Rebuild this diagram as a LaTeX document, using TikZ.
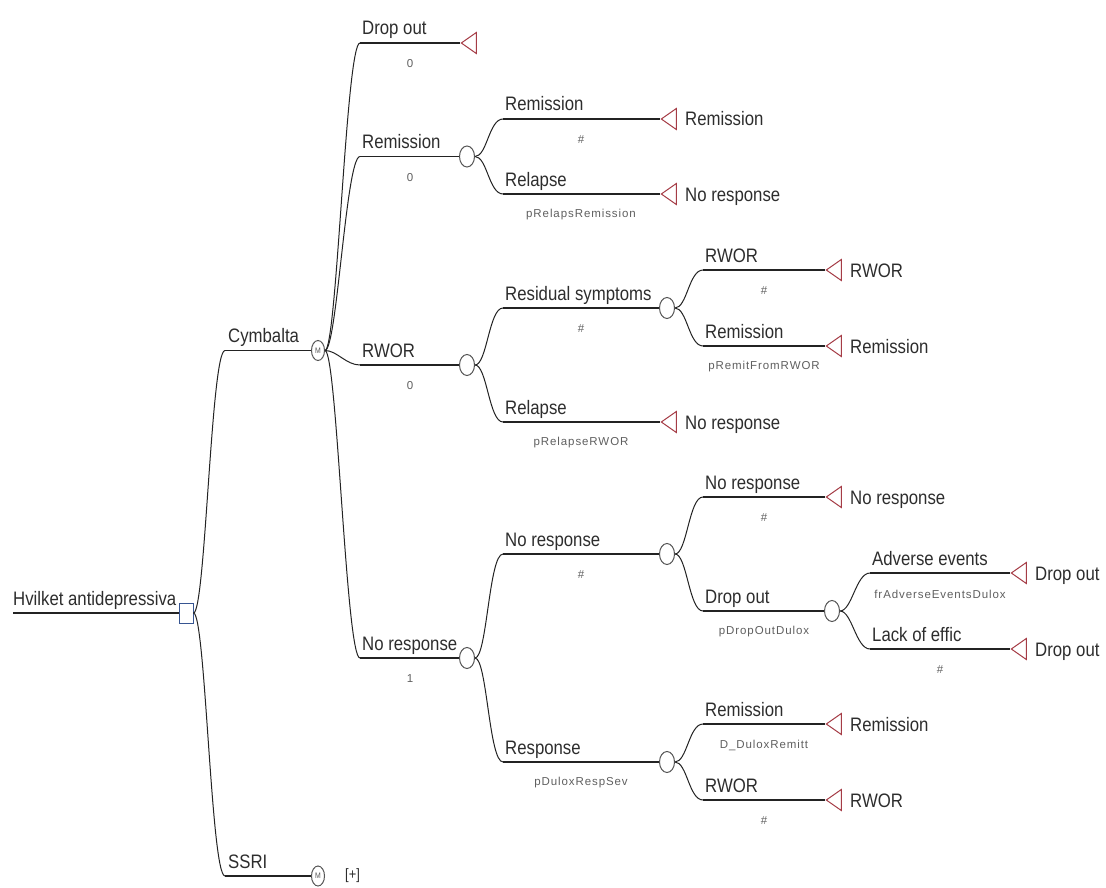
\documentclass[tikz,border=0pt]{standalone}
\usepackage{fontspec}
\usepackage{tikz}
\usetikzlibrary{shapes.geometric}
\newfontfamily\treefont[FakeStretch=0.86]{Liberation Sans}
\newfontfamily\probfont[LetterSpace=8]{Liberation Sans}
\definecolor{termred}{RGB}{165,60,70}
\definecolor{linegray}{RGB}{35,35,35}
\definecolor{nodegray}{RGB}{85,85,85}
\definecolor{decblue}{RGB}{55,85,145}
\definecolor{labelgray}{RGB}{45,45,45}
\definecolor{probgray}{RGB}{95,95,95}

\begin{document}
\begin{tikzpicture}[x=1pt, y=-1pt,
  branch/.style={linegray, line width=1.8pt},
  conn/.style={linegray, line width=1pt},
  chance/.style={ellipse, draw=nodegray, fill=white, line width=1pt, minimum width=15pt, minimum height=21pt, inner sep=0pt},
  markov/.style={ellipse, draw=nodegray, fill=white, line width=1pt, minimum width=13pt, minimum height=20pt, inner sep=0pt, text=nodegray, font=\treefont\fontsize{8}{8}\selectfont},
  decision/.style={rectangle, draw=decblue, fill=white, line width=1pt, minimum width=14pt, minimum height=20pt, inner sep=0pt},
  term/.style={isosceles triangle, shape border rotate=180, isosceles triangle stretches, draw=termred, fill=white, line width=1pt, minimum width=21pt, minimum height=15pt, inner sep=0pt, anchor=apex},
  lbl/.style={anchor=base west, inner sep=0pt, text=labelgray, font=\treefont\fontsize{19.5}{21}\selectfont},
  prob/.style={inner sep=0pt, text=probgray, font=\probfont\fontsize{11.5}{13}\selectfont}]
  \useasboundingbox (0,0) rectangle (1106,888);
  \def\xa{225}\def\xb{360}\def\xc{503}\def\xd{703}\def\xe{870}

  % decision: which antidepressant
  \node[decision] (dec) at (186,613) {};
  \coordinate (rootA) at (13,613);
  \draw[branch] (rootA) -- (dec.west);
  \node[lbl] (rootL) at (13,605) {Hvilket antidepressiva};

  % Cymbalta / SSRI (markov)
  \node[markov] (cym) at (318,350.5) {M};
  \coordinate (cymA) at (\xa,350.5);
  \draw[branch] (cymA) -- (cym.west);
  \draw[conn] (dec.east) .. controls +(12,0) and +(-14,0) .. (cymA);
  \node[lbl] (cymL) at (\xa+3,342) {Cymbalta};

  \node[markov] (ssri) at (318,876) {M};
  \coordinate (ssriA) at (\xa,876);
  \draw[branch] (ssriA) -- (ssri.west);
  \draw[conn] (dec.east) .. controls +(12,0) and +(-14,0) .. (ssriA);
  \node[lbl] (ssriL) at (\xa+3,868) {SSRI};
  \node[lbl, anchor=west, font=\treefont\fontsize{15}{16}\selectfont] (ssriX) at (345,876) {[+]};

  % Cymbalta states
  \node[term] (dropT) at (460,43) {};
  \coordinate (dropA) at (\xb,43);
  \draw[branch] (dropA) -- (dropT.apex);
  \draw[conn] (cym.east) .. controls +(12,0) and +(-14,0) .. (dropA);
  \node[lbl] (dropL) at (\xb+2,35) {Drop out};
  \node[prob] (dropP) at (410,64) {0};

  \node[chance] (c1) at (467,156.5) {};
  \coordinate (remA) at (\xb,156.5);
  \draw[branch] (remA) -- (c1.west);
  \draw[conn] (cym.east) .. controls +(12,0) and +(-14,0) .. (remA);
  \node[lbl] (remL) at (\xb+2,148.5) {Remission};
  \node[prob] (remP) at (410,177.5) {0};

  \node[chance] (c2) at (467,365) {};
  \coordinate (rworA) at (\xb,365);
  \draw[branch] (rworA) -- (c2.west);
  \draw[conn] (cym.east) .. controls +(12,0) and +(-14,0) .. (rworA);
  \node[lbl] (rworL) at (\xb+2,357) {RWOR};
  \node[prob] (rworP) at (410,386) {0};

  \node[chance] (c4) at (467,658) {};
  \coordinate (nrA) at (\xb,658);
  \draw[branch] (nrA) -- (c4.west);
  \draw[conn] (cym.east) .. controls +(12,0) and +(-14,0) .. (nrA);
  \node[lbl] (nrL) at (\xb+2,650) {No response};
  \node[prob] (nrP) at (410,679) {1};

  % from Remission
  \node[term] (c1remT) at (660,119) {};
  \coordinate (c1remA) at (\xc,119);
  \draw[branch] (c1remA) -- (c1remT.apex);
  \draw[conn] (c1.east) .. controls +(12,0) and +(-14,0) .. (c1remA);
  \node[lbl] (c1remL) at (\xc+2,111) {Remission};
  \node[prob] (c1remP) at (581,140) {\#};
  \node[lbl] (c1remE) at (685,126) {Remission};

  \node[term] (c1relT) at (660,194) {};
  \coordinate (c1relA) at (\xc,194);
  \draw[branch] (c1relA) -- (c1relT.apex);
  \draw[conn] (c1.east) .. controls +(12,0) and +(-14,0) .. (c1relA);
  \node[lbl] (c1relL) at (\xc+2,186) {Relapse};
  \node[prob] (c1relP) at (581,215) {pRelapsRemission};
  \node[lbl] (c1relE) at (685,201) {No response};

  % from RWOR
  \node[chance] (c3) at (667,308) {};
  \coordinate (resA) at (\xc,308);
  \draw[branch] (resA) -- (c3.west);
  \draw[conn] (c2.east) .. controls +(12,0) and +(-14,0) .. (resA);
  \node[lbl] (resL) at (\xc+2,300) {Residual symptoms};
  \node[prob] (resP) at (581,329) {\#};

  \node[term] (c2relT) at (660,422) {};
  \coordinate (c2relA) at (\xc,422);
  \draw[branch] (c2relA) -- (c2relT.apex);
  \draw[conn] (c2.east) .. controls +(12,0) and +(-14,0) .. (c2relA);
  \node[lbl] (c2relL) at (\xc+2,414) {Relapse};
  \node[prob] (c2relP) at (581,443) {pRelapseRWOR};
  \node[lbl] (c2relE) at (685,429) {No response};

  % from Residual symptoms
  \node[term] (c3rwT) at (825,270) {};
  \coordinate (c3rwA) at (\xd,270);
  \draw[branch] (c3rwA) -- (c3rwT.apex);
  \draw[conn] (c3.east) .. controls +(12,0) and +(-14,0) .. (c3rwA);
  \node[lbl] (c3rwL) at (\xd+2,262) {RWOR};
  \node[prob] (c3rwP) at (764,291) {\#};
  \node[lbl] (c3rwE) at (850,277) {RWOR};

  \node[term] (c3remT) at (825,346) {};
  \coordinate (c3remA) at (\xd,346);
  \draw[branch] (c3remA) -- (c3remT.apex);
  \draw[conn] (c3.east) .. controls +(12,0) and +(-14,0) .. (c3remA);
  \node[lbl] (c3remL) at (\xd+2,338) {Remission};
  \node[prob] (c3remP) at (764,367) {pRemitFromRWOR};
  \node[lbl] (c3remE) at (850,353) {Remission};

  % from No response
  \node[chance] (c5) at (667,554) {};
  \coordinate (c4nrA) at (\xc,554);
  \draw[branch] (c4nrA) -- (c5.west);
  \draw[conn] (c4.east) .. controls +(12,0) and +(-14,0) .. (c4nrA);
  \node[lbl] (c4nrL) at (\xc+2,546) {No response};
  \node[prob] (c4nrP) at (581,575) {\#};

  \node[chance] (c6) at (667,762) {};
  \coordinate (respA) at (\xc,762);
  \draw[branch] (respA) -- (c6.west);
  \draw[conn] (c4.east) .. controls +(12,0) and +(-14,0) .. (respA);
  \node[lbl] (respL) at (\xc+2,754) {Response};
  \node[prob] (respP) at (581,783) {pDuloxRespSev};

  % no response, second step
  \node[term] (c5nrT) at (825,497) {};
  \coordinate (c5nrA) at (\xd,497);
  \draw[branch] (c5nrA) -- (c5nrT.apex);
  \draw[conn] (c5.east) .. controls +(12,0) and +(-14,0) .. (c5nrA);
  \node[lbl] (c5nrL) at (\xd+2,489) {No response};
  \node[prob] (c5nrP) at (764,518) {\#};
  \node[lbl] (c5nrE) at (850,504) {No response};

  \node[chance] (c7) at (832,611) {};
  \coordinate (c5dropA) at (\xd,611);
  \draw[branch] (c5dropA) -- (c7.west);
  \draw[conn] (c5.east) .. controls +(12,0) and +(-14,0) .. (c5dropA);
  \node[lbl] (c5dropL) at (\xd+2,603) {Drop out};
  \node[prob] (c5dropP) at (764,632) {pDropOutDulox};

  % drop out reasons
  \node[term] (advT) at (1010,573) {};
  \coordinate (advA) at (\xe,573);
  \draw[branch] (advA) -- (advT.apex);
  \draw[conn] (c7.east) .. controls +(12,0) and +(-14,0) .. (advA);
  \node[lbl] (advL) at (\xe+2,565) {Adverse events};
  \node[prob] (advP) at (940,594) {frAdverseEventsDulox};
  \node[lbl] (advE) at (1035,580) {Drop out};

  \node[term] (lackT) at (1010,649) {};
  \coordinate (lackA) at (\xe,649);
  \draw[branch] (lackA) -- (lackT.apex);
  \draw[conn] (c7.east) .. controls +(12,0) and +(-14,0) .. (lackA);
  \node[lbl] (lackL) at (\xe+2,641) {Lack of effic};
  \node[prob] (lackP) at (940,670) {\#};
  \node[lbl] (lackE) at (1035,656) {Drop out};

  % from Response
  \node[term] (c6remT) at (825,724) {};
  \coordinate (c6remA) at (\xd,724);
  \draw[branch] (c6remA) -- (c6remT.apex);
  \draw[conn] (c6.east) .. controls +(12,0) and +(-14,0) .. (c6remA);
  \node[lbl] (c6remL) at (\xd+2,716) {Remission};
  \node[prob] (c6remP) at (764,745) {D\_DuloxRemitt};
  \node[lbl] (c6remE) at (850,731) {Remission};

  \node[term] (c6rwT) at (825,800) {};
  \coordinate (c6rwA) at (\xd,800);
  \draw[branch] (c6rwA) -- (c6rwT.apex);
  \draw[conn] (c6.east) .. controls +(12,0) and +(-14,0) .. (c6rwA);
  \node[lbl] (c6rwL) at (\xd+2,792) {RWOR};
  \node[prob] (c6rwP) at (764,821) {\#};
  \node[lbl] (c6rwE) at (850,807) {RWOR};

\end{tikzpicture}
\end{document}
